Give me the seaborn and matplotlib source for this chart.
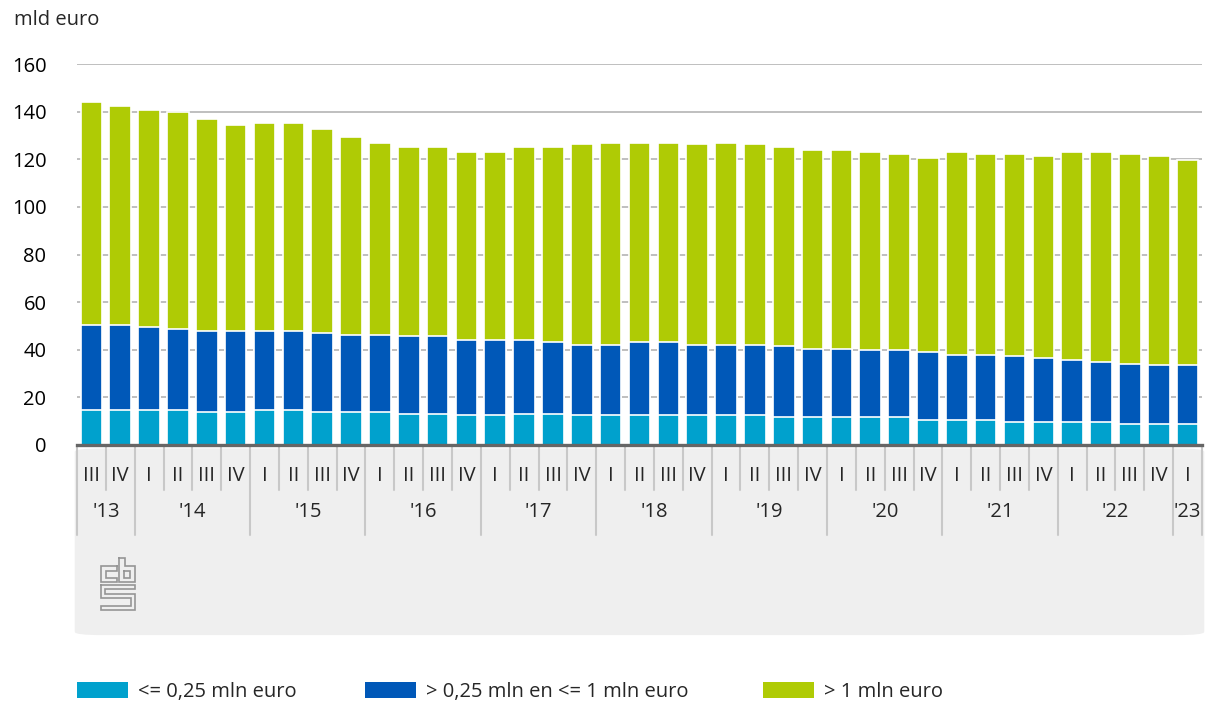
import numpy as np
import pandas as pd
import seaborn as sns
import matplotlib.pyplot as plt
from matplotlib.patches import FancyBboxPatch, Patch
from matplotlib.lines import Line2D

# Data (mld euro), quarters 2013 III .. 2023 I
years = ["'13"] * 2 + ["'14"] * 4 + ["'15"] * 4 + ["'16"] * 4 + ["'17"] * 4 + \
        ["'18"] * 4 + ["'19"] * 4 + ["'20"] * 4 + ["'21"] * 4 + ["'22"] * 4 + ["'23"]
quarters = ["III", "IV"] + ["I", "II", "III", "IV"] * 9 + ["I"]

small = [14.7, 14.7, 14.7, 14.7, 14.0, 14.0, 14.7, 14.7, 14.0, 14.0, 14.0, 13.1, 13.1,
         12.4, 12.4, 13.1, 13.1, 12.4, 12.4, 12.4, 12.4, 12.4, 12.4, 12.4, 11.6, 11.6,
         11.6, 11.6, 11.6, 10.6, 10.6, 10.6, 9.8, 9.8, 9.8, 9.8, 8.9, 8.9, 8.9]
medium = [35.7, 35.7, 34.9, 34.1, 34.0, 34.0, 33.3, 33.3, 33.1, 32.4, 32.4, 32.5, 32.5,
          31.5, 31.5, 30.8, 30.0, 29.8, 29.8, 30.7, 30.7, 29.8, 29.8, 29.8, 29.8, 28.9,
          28.9, 28.1, 28.1, 28.3, 27.4, 27.4, 27.4, 26.7, 25.9, 25.2, 25.2, 24.5, 24.5]
large = [93.7, 92.1, 91.2, 91.2, 88.8, 86.4, 87.1, 87.1, 85.6, 83.0, 80.6, 79.7, 79.7,
         79.0, 79.0, 81.4, 82.2, 84.1, 84.8, 83.9, 83.9, 84.1, 84.8, 84.1, 83.9, 83.3,
         83.3, 83.2, 82.4, 81.7, 84.9, 84.1, 84.9, 84.8, 87.2, 87.9, 88.0, 87.9, 86.3]

series_labels = ["<= 0,25 mln euro", "> 0,25 mln en <= 1 mln euro", "> 1 mln euro"]
colors = ["#00a1cd", "#0058b8", "#afcb05"]
y_ticks = [0, 20, 40, 60, 80, 100, 120, 140, 160]

df = pd.DataFrame({"jaar": years, "kwartaal": quarters,
                   "klein": small, "midden": medium, "groot": large})
df["label"] = [f"{y} {q}" for y, q in zip(df["jaar"], df["kwartaal"])]
df["cum1"] = df["klein"]
df["cum2"] = df["klein"] + df["midden"]
df["cum3"] = df["cum2"] + df["groot"]

sns.set_theme(style="white")
plt.rcParams["font.family"] = ["Open Sans", "DejaVu Sans"]
FS = 14.5

W, H = 1205, 702
fig = plt.figure(figsize=(W / 100, H / 100), dpi=100)
ax = fig.add_axes([77 / W, 1 - 445 / H, (1202 - 77) / W, (445 - 64) / H])

# stacked bars: draw cumulative totals from top layer down
for col, c in zip(["cum3", "cum2", "cum1"], colors[::-1]):
    sns.barplot(data=df, x="label", y=col, color=c, saturation=1, width=0.75,
                edgecolor="white", linewidth=1.2, errorbar=None, ax=ax)

ax.set_ylim(0, 160)
ax.set_xlim(-0.5, len(df) - 0.5)
ax.set_yticks(y_ticks)
ax.set_axisbelow(True)
ax.yaxis.grid(True, color="#b4b4b4", linewidth=1.2)
ax.xaxis.grid(False)
for s in ["top", "right", "left"]:
    ax.spines[s].set_visible(False)
ax.spines["bottom"].set_color("#666666")
ax.spines["bottom"].set_linewidth(2.4)
ax.tick_params(axis="y", length=0, pad=22, labelsize=FS, labelcolor="#000000")
ax.tick_params(axis="x", length=0, labelbottom=False)
ax.set_xlabel("")
ax.set_ylabel("")

# grey box with category labels under the axis
box = FancyBboxPatch((-0.002, -0.499), 1.004, 0.49, boxstyle="round,pad=0,rounding_size=0.025",
                     transform=ax.transAxes, facecolor="#efefef", edgecolor="none",
                     clip_on=False, zorder=0, mutation_aspect=381 / 1125)
ax.add_patch(box)

xt = np.asarray(ax.get_xticks())
trans = ax.get_xaxis_transform()
for x, q in zip(xt, df["kwartaal"]):
    ax.text(x, -0.081, q, transform=trans, ha="center", va="center", fontsize=FS, clip_on=False)
# separators
for i in range(len(df) + 1):
    xb = i - 0.5
    new_year = i == 0 or i == len(df) or df["jaar"].iloc[i] != df["jaar"].iloc[i - 1]
    y0 = -0.236 if new_year else -0.118
    ax.add_line(Line2D([xb, xb], [-0.006, y0], transform=trans, color="#c8c8c8",
                       linewidth=1.5, clip_on=False))
for yr, grp in df.groupby("jaar", sort=False):
    xm = xt[grp.index.to_numpy()].mean()
    ax.text(xm, -0.176, yr, transform=trans, ha="center", va="center", fontsize=FS, clip_on=False)

# cbs logo (outline drawing)
logo = fig.add_axes([100 / W, 1 - 611 / H, 36 / W, 54 / H])
logo.set_xlim(43, 154)
logo.set_ylim(199, 33)
logo.axis("off")
lc = dict(color="#959595", linewidth=1.2, solid_joinstyle="miter")
logo.plot([96, 45, 45, 96, 96, 60, 60, 96, 96], [62, 62, 110, 110, 97, 97, 75, 75, 62], **lc)
logo.plot([103, 120, 120, 152, 152, 103, 103], [35, 35, 62, 62, 110, 110, 35], **lc)
logo.plot([118, 137, 137, 118, 118], [75, 75, 97, 97, 75], **lc)
logo.plot([45, 152, 152, 59, 59, 152, 152, 45, 45, 138, 138, 45, 45],
          [118, 118, 130, 130, 148, 148, 197, 197, 185, 185, 160, 160, 118], **lc)

fig.text(14 / W, 1 - 20 / H, "mld euro", fontsize=FS, va="center", ha="left")

# legend entries placed at the reference positions
for c, lab, xpx in zip(colors, series_labels, [77, 365, 763]):
    leg = fig.legend([Patch(facecolor=c, edgecolor="none")], [lab], loc="lower left",
                     bbox_to_anchor=(xpx / W, 0.0), frameon=False, fontsize=FS,
                     borderpad=0, borderaxespad=0, handlelength=2.55,
                     handleheight=0.85, handletextpad=0.5)

fig.savefig("out.png", dpi=100)
